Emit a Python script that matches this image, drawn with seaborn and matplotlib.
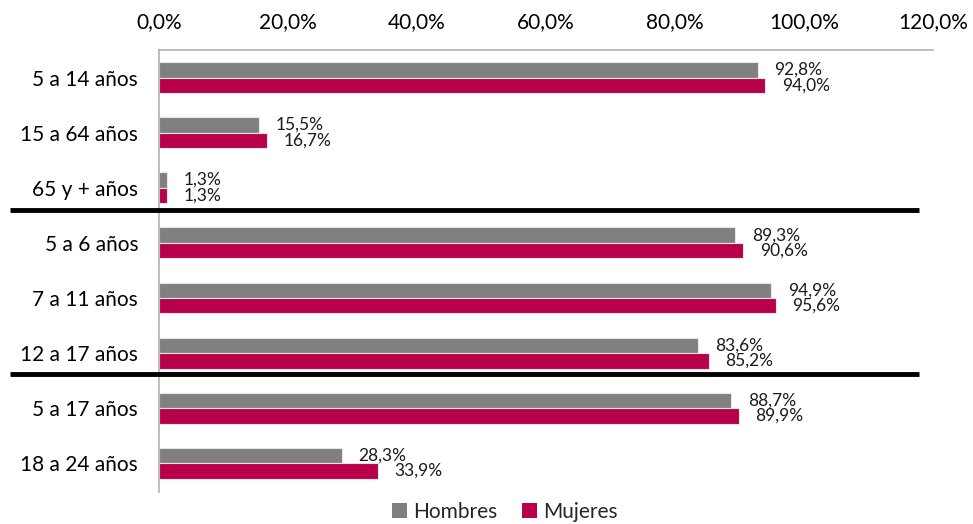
import matplotlib
matplotlib.use("Agg")
import matplotlib.pyplot as plt
import matplotlib.transforms as mtransforms
from matplotlib.patches import Patch
import seaborn as sns
import pandas as pd

categorias = ["5 a 14 años", "15 a 64 años", "65 y + años", "5 a 6 años",
              "7 a 11 años", "12 a 17 años", "5 a 17 años", "18 a 24 años"]
hombres = [92.8, 15.5, 1.3, 89.3, 94.9, 83.6, 88.7, 28.3]
mujeres = [94.0, 16.7, 1.3, 90.6, 95.6, 85.2, 89.9, 33.9]
series = ["Hombres", "Mujeres"]
colores = {"Hombres": "#808080", "Mujeres": "#B8004A"}
ticks_x = [0, 20, 40, 60, 80, 100, 120]

df = pd.DataFrame({
    "grupo": categorias * 2,
    "sexo": ["Hombres"] * len(categorias) + ["Mujeres"] * len(categorias),
    "valor": hombres + mujeres,
})

sns.set_style("white")
plt.rcParams["font.family"] = ["Lato", "DejaVu Sans"]

fig = plt.figure(figsize=(9.73, 5.24), dpi=100)
ax = fig.add_axes([159 / 973, 1 - 492 / 524, (933 - 159) / 973, (492 - 50) / 524])

sns.barplot(data=df, y="grupo", x="valor", hue="sexo", order=categorias,
            hue_order=series, palette=colores, orient="h", width=0.56,
            saturation=1, edgecolor="#e6e6e6", linewidth=0.8, legend=False, ax=ax)

ax.set_xlim(0, 120)
ax.set_ylim(len(categorias) - 0.5 + 0.02, -0.5)
ax.xaxis.tick_top()
ax.set_xticks(ticks_x)
ax.set_xticklabels([f"{t:.1f}%".replace(".", ",") for t in ticks_x])
ax.tick_params(axis="x", length=0, labelsize=15, pad=13, colors="#000000")
ax.tick_params(axis="y", length=0, labelsize=15, pad=15, colors="#000000")
ax.set_xlabel("")
ax.set_ylabel("")
ax.grid(False)
for s in ["right", "bottom"]:
    ax.spines[s].set_visible(False)
ax.spines["top"].set_color("#b3b3b3")
ax.spines["left"].set_color("#b3b3b3")
ax.spines["top"].set_linewidth(1.2)
ax.spines["left"].set_linewidth(1.2)

# etiquetas de valor
for cont, vals in zip(ax.containers, [hombres, mujeres]):
    ax.bar_label(cont, labels=[f"{v:.1f}%".replace(".", ",") for v in vals],
                 padding=12, fontsize=12.5, color="#1a1a1a")

# separadores negros entre grupos
trans = mtransforms.blended_transform_factory(fig.transFigure, ax.transData)
for yy in [2.41, 5.38]:
    fig.add_artist(plt.Line2D([10 / 973, 919 / 973], [yy, yy], transform=trans,
                              color="black", linewidth=3.5, solid_capstyle="butt"))

handles = [Patch(facecolor=colores[s], edgecolor="none") for s in series]
fig.legend(handles, series, loc="center", bbox_to_anchor=(505 / 973, 1 - 512 / 524),
           ncol=2, frameon=False, fontsize=15, handlelength=0.7, handleheight=0.7,
           handletextpad=0.3, columnspacing=1.2, borderpad=0)

fig.savefig("out.png", dpi=100)
